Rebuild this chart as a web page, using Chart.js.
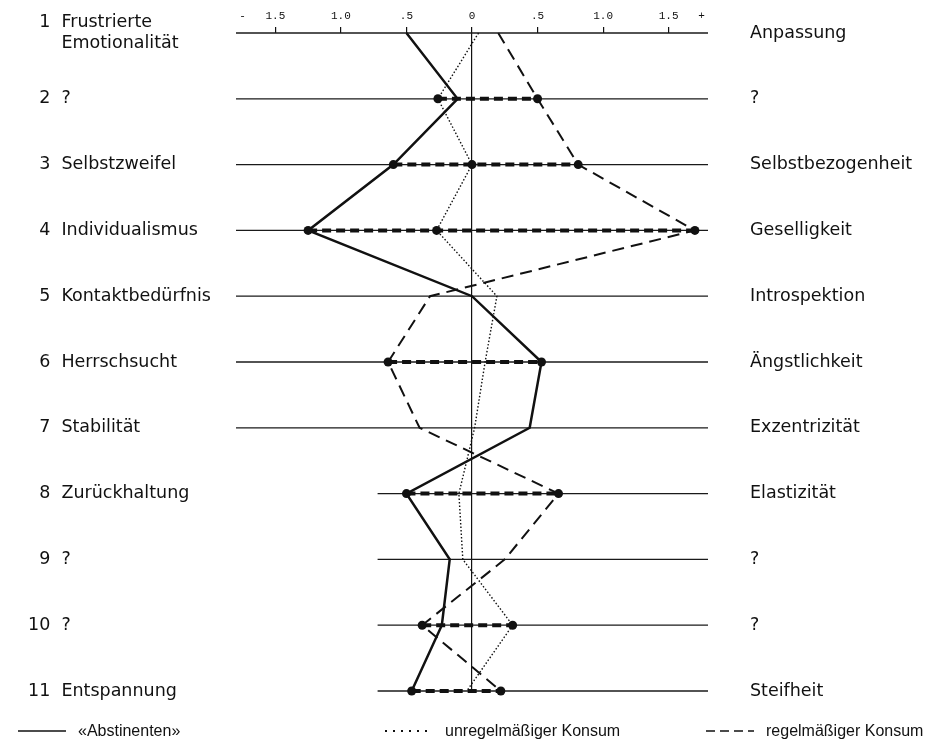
<!DOCTYPE html>
<html>
<head>
<meta charset="utf-8">
<script src="https://cdn.jsdelivr.net/npm/chart.js@4.4.1/dist/chart.umd.min.js"></script>
<style>
  body { margin: 0; background: #fff; }
  #wrap { position: relative; width: 936px; height: 743px; }
  #legend { position: absolute; left: 0; top: 720px; width: 936px; height: 22px;
            font: 16px "Liberation Sans", Arial, sans-serif; color: #111; }
  #legend .item { position: absolute; top: 0; height: 22px; display: flex; align-items: center; white-space: nowrap; }
  #legend svg { margin-right: 12px; }
</style>
</head>
<body>
<div id="wrap">
  <canvas id="chart" width="936" height="743"></canvas>
  <div id="legend"></div>
</div>
<script>
// rows of the profile (1 = top)
const rows = [1, 2, 3, 4, 5, 6, 7, 8, 9, 10, 11];
const leftLabels = [
  ['\u20071  Frustrierte', '\u2007\u2007  Emotionalität'],
  '\u20072  ?',
  '\u20073  Selbstzweifel',
  '\u20074  Individualismus',
  '\u20075  Kontaktbedürfnis',
  '\u20076  Herrschsucht',
  '\u20077  Stabilität',
  '\u20078  Zurückhaltung',
  '\u20079  ?',
  '10  ?',
  '11  Entspannung'
];
const rightLabels = ['Anpassung', '?', 'Selbstbezogenheit', 'Geselligkeit', 'Introspektion',
  'Ängstlichkeit', 'Exzentrizität', 'Elastizität', '?', '?', 'Steifheit'];

// x ticks on top
const xTickValues = [-1.75, -1.5, -1, -0.5, 0, 0.5, 1, 1.5, 1.75];
const xTickLabels = ['-', '1.5', '1.0', '.5', '0', '.5', '1.0', '1.5', '+'];

// profile values per row
const abstinent = [-0.5, -0.11, -0.6, -1.25, 0, 0.53, 0.44, -0.5, -0.17, -0.23, -0.46];
const irregular = [0.05, -0.26, 0, -0.27, 0.19, 0.10, 0.02, -0.10, -0.07, 0.31, -0.04];
const regular = [0.2, 0.5, 0.81, 1.7, -0.32, -0.64, -0.40, 0.66, 0.25, -0.38, 0.22];

// rows with marked (significant) differences
const sigRows = [2, 3, 4, 6, 8, 10, 11];
const sigMidRows = [3, 4];

const seriesLabels = ['«Abstinenten»', 'unregelmäßiger Konsum', 'regelmäßiger Konsum'];

const ink = '#111';

function toPoints(vals) {
  return vals.map((v, i) => ({ x: v, y: rows[i] }));
}

const sigSets = sigRows.map(r => {
  const i = r - 1;
  const vals = [abstinent[i], irregular[i], regular[i]].sort((a, b) => a - b);
  const pts = sigMidRows.includes(r) ? vals : [vals[0], vals[2]];
  return {
    label: 'sig ' + r,
    data: pts.map(v => ({ x: v, y: r })),
    borderColor: ink,
    backgroundColor: ink,
    borderWidth: 4,
    borderDash: [9, 5],
    pointRadius: 4.5,
    pointBorderWidth: 0,
    legend: false
  };
});

const mainSets = [
  { label: seriesLabels[0], data: toPoints(abstinent), borderWidth: 2.5, borderDash: [] },
  { label: seriesLabels[1], data: toPoints(irregular), borderWidth: 1.4, borderDash: [1.5, 2] },
  { label: seriesLabels[2], data: toPoints(regular), borderWidth: 2, borderDash: [12, 7] }
].map(d => Object.assign(d, { borderColor: ink, backgroundColor: ink, pointRadius: 0 }));

// horizontal row lines; lower rows start further right
const rowLines = {
  id: 'rowLines',
  beforeDatasetsDraw(chart) {
    const { ctx, chartArea, scales: { x, y } } = chart;
    ctx.save();
    ctx.strokeStyle = '#1a1a1a';
    ctx.lineWidth = 1.3;
    rows.forEach(r => {
      const py = y.getPixelForValue(r);
      const x0 = r >= 8 ? x.getPixelForValue(-0.72) : chartArea.left;
      ctx.beginPath();
      ctx.moveTo(x0, py);
      ctx.lineTo(chartArea.right, py);
      ctx.stroke();
    });
    ctx.restore();
  }
};

const rowTicks = scale => { scale.ticks = rows.map(v => ({ value: v })); };
const noPad = scale => {
  scale.paddingTop = 0;
  scale.paddingBottom = 0;
  scale.paddingLeft = 0;
  scale.paddingRight = 0;
};

const chart = new Chart(document.getElementById('chart'), {
  type: 'line',
  data: { datasets: [...sigSets, ...mainSets] },
  options: {
    responsive: false,
    animation: false,
    events: [],
    clip: false,
    layout: { autoPadding: false, padding: { left: 28, right: 0, top: 0, bottom: 52 } },
    elements: { line: { tension: 0 } },
    plugins: { legend: { display: false }, tooltip: { enabled: false } },
    scales: {
      x: {
        type: 'linear',
        position: 'top',
        min: -1.8,
        max: 1.8,
        afterBuildTicks: scale => { scale.ticks = xTickValues.map(v => ({ value: v })); },
        afterFit: scale => { scale.height = 33; noPad(scale); },
        border: { display: false },
        grid: {
          color: c => (c.tick && c.tick.value === 0 ? ink : 'transparent'),
          tickColor: c => (c.tick && Math.abs(c.tick.value) === 1.75 ? 'transparent' : ink),
          lineWidth: 1.2,
          tickLength: 6
        },
        ticks: {
          autoSkip: false,
          maxRotation: 0,
          padding: 4,
          color: ink,
          font: { family: '"Liberation Mono", "DejaVu Sans Mono", monospace', size: 11 },
          callback: v => xTickLabels[xTickValues.indexOf(v)]
        }
      },
      y: {
        type: 'linear',
        position: 'left',
        min: 1,
        max: 11,
        reverse: true,
        afterBuildTicks: rowTicks,
        afterFit: scale => { scale.width = 208; noPad(scale); },
        border: { display: false },
        grid: { display: false, drawTicks: false },
        ticks: {
          autoSkip: false,
          crossAlign: 'far',
          padding: 0,
          color: ink,
          font: { family: '"DejaVu Sans", sans-serif', size: 17.5, lineHeight: 1.2 },
          callback: v => leftLabels[v - 1]
        }
      },
      y2: {
        type: 'linear',
        position: 'right',
        min: 1,
        max: 11,
        reverse: true,
        afterBuildTicks: rowTicks,
        afterFit: scale => { scale.width = 228; noPad(scale); },
        border: { display: false },
        grid: { display: false, drawTicks: false },
        ticks: {
          autoSkip: false,
          crossAlign: 'near',
          padding: 42,
          color: ink,
          font: { family: '"DejaVu Sans", sans-serif', size: 17.5 },
          callback: v => rightLabels[v - 1]
        }
      }
    }
  },
  plugins: [rowLines]
});

// html legend from the three profile series
const legendLeft = [18, 385, 706];
const legendDash = ['', '2 6', '9 5'];
const legendWidth = [1.5, 2, 1.5];
const legendEl = document.getElementById('legend');
chart.data.datasets.filter(d => d.legend !== false).forEach((d, i) => {
  const item = document.createElement('div');
  item.className = 'item';
  item.style.left = legendLeft[i] + 'px';
  item.innerHTML =
    '<svg width="48" height="6"><line x1="0" y1="3" x2="48" y2="3" stroke="' + ink +
    '" stroke-width="' + legendWidth[i] + '"' +
    (legendDash[i] ? ' stroke-dasharray="' + legendDash[i] + '"' : '') + '/></svg>';
  const span = document.createElement('span');
  span.textContent = d.label;
  item.appendChild(span);
  legendEl.appendChild(item);
});
</script>
</body>
</html>
